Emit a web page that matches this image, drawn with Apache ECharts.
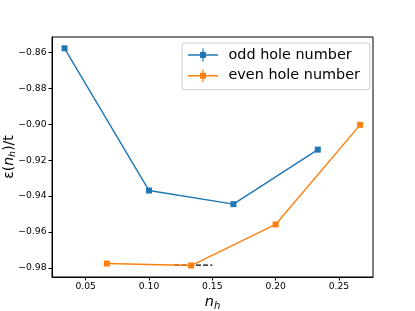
<!DOCTYPE html>
<html>
<head>
<meta charset="utf-8">
<script src="https://cdn.jsdelivr.net/npm/echarts@6/dist/echarts.min.js"></script>
<style>html,body{margin:0;padding:0;background:#fff}#c{width:415px;height:311px}</style>
</head>
<body>
<div id="c"></div>
<script>
const oddX = [0.0333, 0.1, 0.1667, 0.2333];
const oddY = [-0.8576, -0.9369, -0.9445, -0.9141];
const evenX = [0.0667, 0.1333, 0.2, 0.2667];
const evenY = [-0.9776, -0.9787, -0.9558, -0.9003];
const refX = [0.12, 0.15];
const refY = [-0.9785, -0.9785];
const xTicks = [0.05, 0.10, 0.15, 0.20, 0.25];
const yTicks = [-0.98, -0.96, -0.94, -0.92, -0.90, -0.88, -0.86];
const seriesNames = ['odd hole number', 'even hole number'];

const pairs = (xs, ys) => xs.map((x, i) => [x, ys[i]]);
const FONT = 'DejaVu Sans';
const fmt = v => v.toFixed(2).replace('-', '\u2212');
const legendIcon = 'path://M0,5.8H30V7.2H0Z M12,3.5H18V9.5H12Z M14.4,0H15.6V13H14.4Z';

const chart = echarts.init(document.getElementById('c'), null, {renderer: 'canvas'});
chart.setOption({
  animation: false,
  backgroundColor: '#fff',
  textStyle: {fontFamily: FONT},
  grid: {left: 52, right: 42, top: 37, bottom: 34, containLabel: false, outerBoundsMode: 'none',
         show: true, borderColor: '#000', borderWidth: 1, backgroundColor: 'transparent'},
  xAxis: {
    type: 'value', min: 0.0234, max: 0.2769,
    axisLine: {show: true, onZero: false, lineStyle: {color: '#000', width: 1}},
    axisTick: {show: true, customValues: xTicks, length: 3.5, lineStyle: {color: '#000'}},
    axisLabel: {customValues: xTicks, formatter: fmt, color: '#000', fontSize: 9.2, fontFamily: FONT, margin: 5},
    splitLine: {show: false},
    name: '{n|n}{s|h}', nameLocation: 'middle', nameGap: 16, nameMoveOverlap: false,
    nameTextStyle: {rich: {
      n: {fontSize: 14.5, fontStyle: 'italic', fontFamily: FONT, color: '#000'},
      s: {fontSize: 10, fontStyle: 'italic', fontFamily: FONT, color: '#000', padding: [8, 0, 0, 0]}
    }}
  },
  yAxis: {
    type: 'value', min: -0.9851, max: -0.8513,
    axisLine: {show: true, onZero: false, lineStyle: {color: '#000', width: 1}},
    axisTick: {show: true, customValues: yTicks, length: 3.5, lineStyle: {color: '#000'}},
    axisLabel: {customValues: yTicks, formatter: fmt, color: '#000', fontSize: 9.2, fontFamily: FONT, margin: 5.5},
    splitLine: {show: false},
    name: '{e|\u03b5(}{n|n}{s|h}{e|)/t}', nameLocation: 'middle', nameGap: 34, nameRotate: 90, nameMoveOverlap: false,
    nameTextStyle: {rich: {
      e: {fontSize: 14, fontFamily: FONT, color: '#000'},
      n: {fontSize: 14, fontStyle: 'italic', fontFamily: FONT, color: '#000'},
      s: {fontSize: 9.5, fontStyle: 'italic', fontFamily: FONT, color: '#000', padding: [8, 0, 0, 0]}
    }}
  },
  legend: {
    orient: 'vertical', left: 182, top: 43,
    padding: [4, 6, 6, 6], itemGap: 4.7, itemWidth: 30, itemHeight: 13,
    borderColor: '#cccccc', borderWidth: 1, borderRadius: 3, backgroundColor: 'rgba(255,255,255,0.8)',
    textStyle: {fontSize: 14.4, fontFamily: FONT, color: '#000', lineHeight: 16, padding: [0, 4, 0, 5.5]},
    data: [{name: seriesNames[0], icon: legendIcon}, {name: seriesNames[1], icon: legendIcon}]
  },
  series: [
    {type: 'line', name: 'ref', data: pairs(refX, refY), showSymbol: false, symbol: 'none', z: 1,
     lineStyle: {color: '#000', width: 1.35, type: [5, 2.2]}},
    {type: 'line', name: seriesNames[0], data: pairs(oddX, oddY), symbol: 'rect', symbolSize: 6, z: 3,
     color: '#1f77b4', itemStyle: {color: '#1f77b4'}, lineStyle: {color: '#1f77b4', width: 1.4}},
    {type: 'line', name: seriesNames[1], data: pairs(evenX, evenY), symbol: 'rect', symbolSize: 6, z: 3,
     color: '#ff7f0e', itemStyle: {color: '#ff7f0e'}, lineStyle: {color: '#ff7f0e', width: 1.4}}
  ]
});
</script>
</body>
</html>
